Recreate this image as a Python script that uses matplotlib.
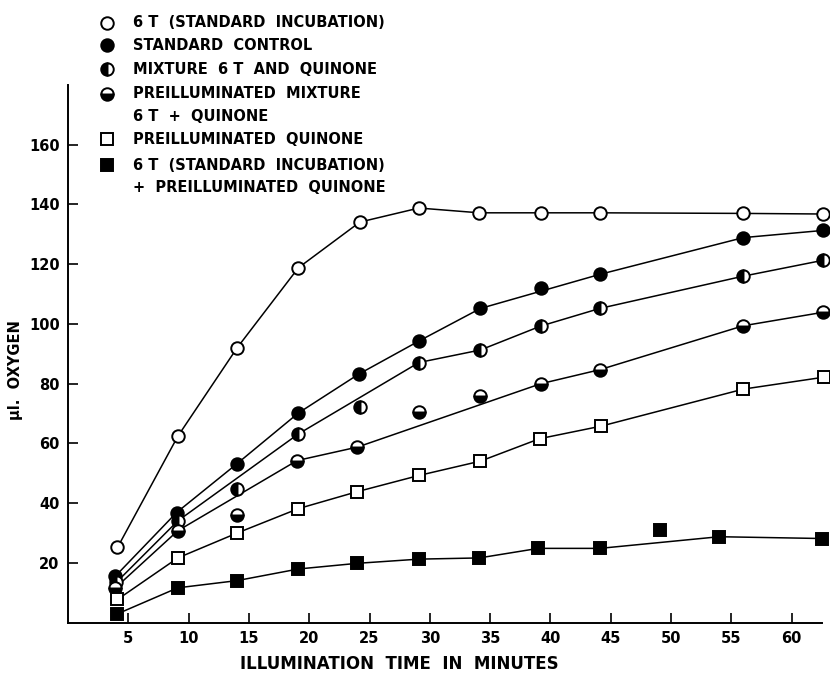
import matplotlib
matplotlib.use("Agg")
import matplotlib.pyplot as plt
from matplotlib.lines import Line2D

# minutes of illumination and ul oxygen
x_std = [4.1, 9.1, 14.0, 19.1, 24.2, 29.1, 34.1, 39.2, 44.1, 56.0, 62.6]
y_std = [25.2, 62.4, 91.9, 118.8, 134.1, 138.8, 137.2, 137.2, 137.2, 137.0, 136.8]

x_ctrl = [3.9, 9.0, 14.0, 19.1, 24.1, 29.1, 34.2, 39.2, 44.1, 56.0, 62.6]
y_ctrl = [15.5, 36.9, 53.2, 70.2, 83.2, 94.3, 105.2, 112.2, 116.6, 128.9, 131.3]
off_ctrl = [39.2]

x_mix = [4.0, 9.1, 14.0, 19.1, 24.2, 29.1, 34.2, 39.2, 44.1, 56.0, 62.6]
y_mix = [13.5, 34.1, 44.7, 63.2, 72.1, 87.1, 91.3, 99.3, 105.2, 116.0, 121.3]
off_mix = [14.0, 24.2]

x_premix = [3.9, 9.1, 14.0, 19.0, 24.0, 29.1, 34.2, 39.2, 44.1, 56.0, 62.6]
y_premix = [11.6, 30.8, 36.0, 54.3, 58.8, 70.4, 75.8, 80.0, 84.7, 99.4, 103.9]
off_premix = [14.0, 29.1, 34.2]

x_quin = [4.1, 9.1, 14.0, 19.1, 24.0, 29.1, 34.2, 39.1, 44.2, 56.0, 62.7]
y_quin = [7.8, 21.7, 30.0, 38.2, 43.9, 49.3, 54.1, 61.6, 65.8, 78.2, 82.2]

x_stdq = [4.1, 9.1, 14.0, 19.1, 24.0, 29.1, 34.1, 39.0, 44.1, 49.1, 54.0, 62.5]
y_stdq = [3.0, 11.7, 14.1, 18.0, 19.9, 21.3, 21.7, 24.9, 24.9, 31.0, 28.8, 28.2]
off_stdq = [49.1]

xticks = [5, 10, 15, 20, 25, 30, 35, 40, 45, 50, 55, 60]
yticks = [20, 40, 60, 80, 100, 120, 140, 160]

labels = ["6 T  (STANDARD  INCUBATION)",
          "STANDARD  CONTROL",
          "MIXTURE  6 T  AND  QUINONE",
          "PREILLUMINATED  MIXTURE\n6 T  +  QUINONE",
          "PREILLUMINATED  QUINONE",
          "6 T  (STANDARD  INCUBATION)\n+  PREILLUMINATED  QUINONE"]

plt.rcParams['font.family'] = ['DejaVu Sans']
plt.rcParams['font.weight'] = 'bold'

fig = plt.figure(figsize=(8.3, 6.74), dpi=100)
ax = fig.add_axes([0.082, 0.076, 0.908, 0.798])

circ = dict(marker='o', markersize=9, markeredgecolor='black', markeredgewidth=1.4)
sq = dict(marker='s', markersize=8.3, markeredgecolor='black', markeredgewidth=1.4)
styles = [
    dict(circ, markerfacecolor='white'),
    dict(circ, markerfacecolor='black'),
    dict(circ, markerfacecolor='black', fillstyle='left', markerfacecoloralt='white'),
    dict(circ, markerfacecolor='black', fillstyle='bottom', markerfacecoloralt='white'),
    dict(sq, markerfacecolor='white'),
    dict(sq, markerfacecolor='black'),
]

series = [(x_std, y_std, []), (x_ctrl, y_ctrl, off_ctrl), (x_mix, y_mix, off_mix),
          (x_premix, y_premix, off_premix), (x_quin, y_quin, []), (x_stdq, y_stdq, off_stdq)]

for (xs, ys, off), st in zip(series, styles):
    lx = [a for a in xs if a not in off]
    ly = [b for a, b in zip(xs, ys) if a not in off]
    ax.plot(lx, ly, color='black', lw=1.1, zorder=2, clip_on=False)
    ax.plot(xs, ys, linestyle='none', zorder=3, clip_on=False, **st)

ax.set_xlim(0, 62.5)
ax.set_ylim(0, 180)
ax.set_xticks(xticks)
ax.set_yticks(yticks)
ax.tick_params(direction='in', length=7, width=1.2, labelsize=10.5, pad=6)
for s in ['top', 'right']:
    ax.spines[s].set_visible(False)
for s in ['left', 'bottom']:
    ax.spines[s].set_linewidth(1.4)
ax.set_xlabel('ILLUMINATION  TIME  IN  MINUTES', fontsize=12, fontweight='bold')
ax.xaxis.set_label_coords(0.44, -0.06)
ax.set_ylabel('µl.  OXYGEN', fontsize=10.5, fontweight='bold')
ax.yaxis.set_label_coords(-0.06, 0.47)

# legend drawn by hand, top left of the figure
rows = [22.7, 45, 69.3, 94, 139.3, 165]
for lab, st, yp in zip(labels, styles, rows):
    fy = 1 - yp / 674
    fig.add_artist(Line2D([106.7 / 830], [fy], transform=fig.transFigure, linestyle='none', **st))
    fig.text(132.7 / 830, fy + 7.5 / 674, lab, ha='left', va='top', fontsize=10.5,
             fontweight='bold', linespacing=1.65)

fig.savefig('out.png', dpi=100)
